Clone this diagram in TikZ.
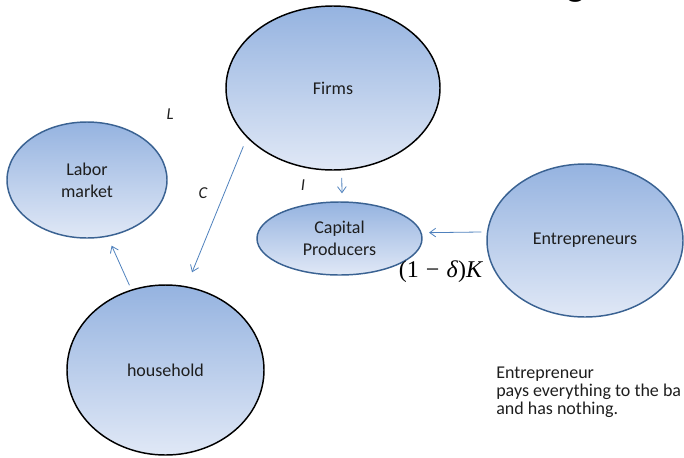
\documentclass[tikz,border=0pt]{standalone}
\usepackage{fontspec}
\setmainfont{Carlito}
\newfontfamily\tnr{Liberation Serif}
\usetikzlibrary{arrows.meta,shapes.geometric}
\definecolor{topc}{RGB}{149,179,224}
\definecolor{botc}{RGB}{224,232,246}
\definecolor{bluebd}{RGB}{58,98,146}
\definecolor{arrc}{RGB}{79,129,189}
\definecolor{txt}{RGB}{30,30,30}
\begin{document}
\begin{tikzpicture}[x=0.75pt,y=-0.75pt,
  bubble/.style={ellipse,inner sep=0pt,top color=topc,bottom color=botc,line width=1.1pt,align=center,font=\fontsize{13.5pt}{16.5pt}\selectfont,text=txt},
  blackbd/.style={bubble,draw=black},
  bluebdr/.style={bubble,draw=bluebd},
  flow/.style={draw=arrc,line width=0.6pt,-{Straight Barb[length=4.5pt,width=6.5pt]}},
  lab/.style={font=\fontsize{12.5pt}{15pt}\selectfont\itshape,inner sep=0pt,text=txt}]
\useasboundingbox (0,0) rectangle (684,457);
\begin{scope}
\clip (0,0) rectangle (684,457);
\node[font=\fontsize{30pt}{30pt}\selectfont,anchor=base,inner sep=0pt] (title) at (576,-5) {g};
\end{scope}
\node[blackbd,minimum width=160.5pt,minimum height=123pt] (firms) at (333,88) {Firms};
\node[bluebdr,minimum width=120pt,minimum height=87pt] (labor) at (87,180) {Labor\\market};
\node[bluebdr,minimum width=123.75pt,minimum height=54.75pt] (cap) at (339.5,238.5) {Capital\\Producers};
\node[bluebdr,minimum width=147pt,minimum height=114.75pt] (ent) at (585,240.5) {Entrepreneurs};
\node[blackbd,minimum width=147.75pt,minimum height=127.5pt] (household) at (165.5,370) {household};
\draw[flow,shorten <=7pt,shorten >=11.25pt] (firms.210.9) -- (household.76.4);
\draw[flow,shorten <=3.5pt,shorten >=7.3pt] (household.113.2) -- (labor.290.8);
\draw[flow,shorten <=5.5pt,shorten >=6pt] (firms.276.3) -- (cap.86.1);
\draw[flow,shorten <=4.2pt,shorten >=5.5pt] (ent.175) -- (cap.4.6);
\node[lab] (L) at (170,114) {L};
\node[lab] (C) at (203,193) {C};
\node[lab] (I) at (303,185) {I};
\node[font=\tnr\fontsize{18pt}{21pt}\selectfont,inner sep=0pt] (dk) at (441,272) {(1\hspace{0.3em}−\hspace{0.3em}\textit{δ})\textit{K}};
\node[anchor=base west,align=left,inner sep=0pt,font=\fontsize{13.5pt}{13.5pt}\selectfont,text=txt] (note) at (496,414) {Entrepreneur\\pays everything to the ba\\and has nothing.};
\end{tikzpicture}
\end{document}
